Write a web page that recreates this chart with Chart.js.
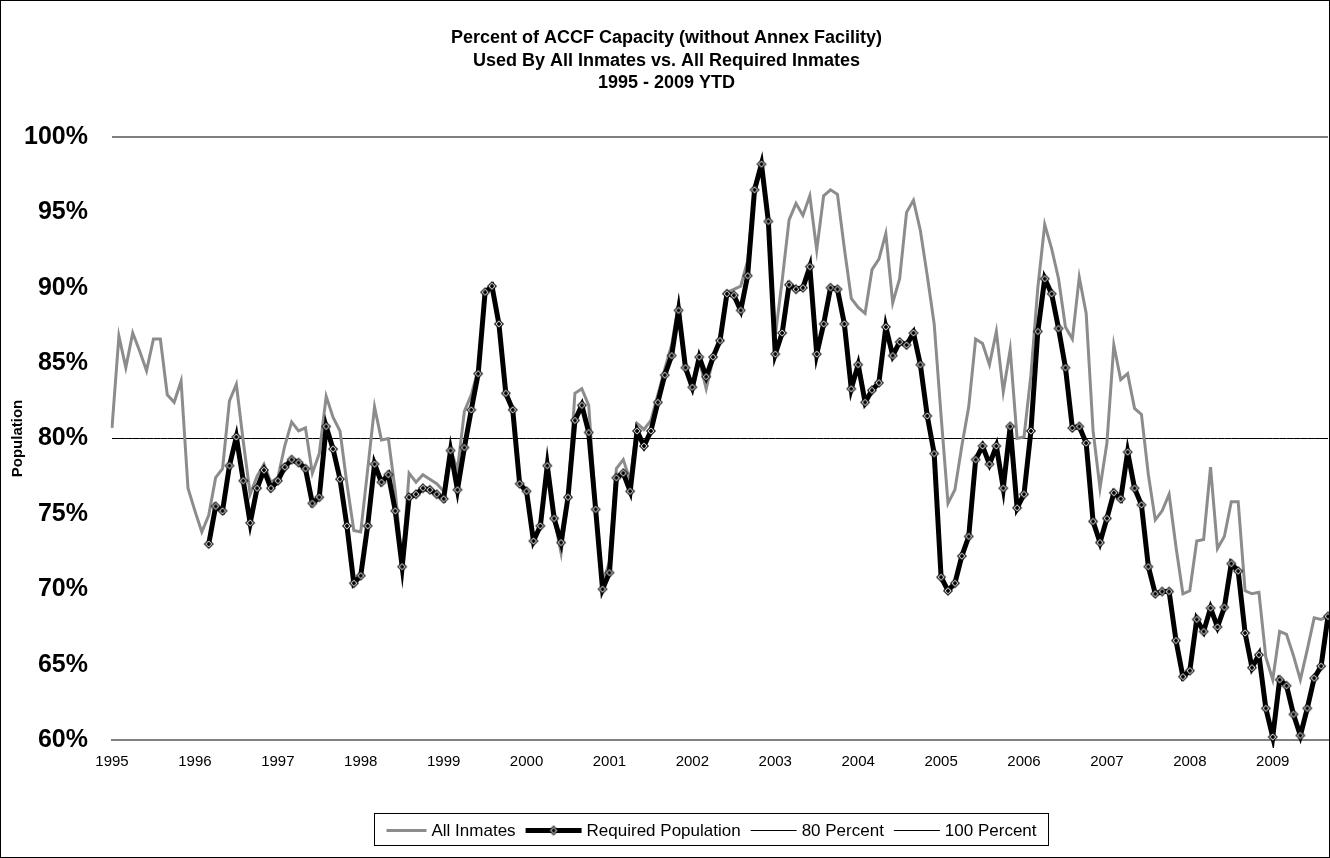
<!DOCTYPE html>
<html>
<head>
<meta charset="utf-8">
<title>Percent of ACCF Capacity</title>
<script src="https://cdn.jsdelivr.net/npm/chart.js@4.4.1/dist/chart.umd.min.js"></script>
<style>
  html, body { margin: 0; padding: 0; background: #fff; }
</style>
</head>
<body>
<canvas id="capacityChart" width="1330" height="858"></canvas>
<script>
// tick labels on the x axis (one per January)
const years = ['1995','1996','1997','1998','1999','2000','2001','2002',
               '2003','2004','2005','2006','2007','2008','2009'];

// percent of capacity, monthly Jan 1995 - Sep 2009
const allInmates = [
  80.7, 86.8, 84.7, 87.0, 85.8, 84.5, 86.6, 86.6, 82.9, 82.4, 83.8, 76.7,
  75.2, 73.8, 74.9, 77.4, 78.0, 82.5, 83.6, 79.8, 76.3, 77.5, 78.3, 77.1,
  77.4, 79.5, 81.1, 80.5, 80.7, 77.7, 79.0, 82.8, 81.4, 80.5, 77.0, 73.9,
  73.8, 77.9, 82.1, 79.9, 80.0, 76.5, 71.6, 77.7, 77.1, 77.6, 77.3, 77.0,
  76.5, 79.3, 77.9, 81.8, 82.9, 84.6, 89.8, 90.0, 87.6, 83.0, 81.9, 77.0,
  76.5, 73.2, 74.2, 78.3, 74.7, 72.4, 76.1, 83.0, 83.3, 82.2, 75.5, 70.4,
  71.8, 78.0, 78.6, 77.2, 81.0, 80.6, 81.2, 82.9, 84.6, 86.2, 88.9, 84.6,
  83.2, 85.2, 83.3, 85.3, 86.6, 89.7, 89.9, 90.1, 91.8, 96.5, 98.2, 94.4,
  86.8, 90.5, 94.5, 95.6, 94.8, 96.1, 92.5, 96.1, 96.5, 96.2, 92.6, 89.3,
  88.7, 88.3, 91.2, 91.9, 93.6, 89.0, 90.6, 95.0, 95.8, 93.8, 90.8, 87.6,
  81.5, 75.7, 76.6, 79.5, 82.1, 86.6, 86.3, 84.9, 87.1, 83.1, 85.9, 80.0,
  80.1, 84.2, 90.0, 94.2, 92.6, 90.6, 87.4, 86.6, 90.7, 88.3, 80.5, 76.7,
  79.7, 86.2, 83.9, 84.3, 82.0, 81.6, 77.6, 74.6, 75.2, 76.3, 72.8, 69.7,
  69.9, 73.2, 73.3, 78.1, 72.7, 73.5, 75.8, 75.8, 69.9, 69.7, 69.8, 65.5,
  64.0, 67.2, 67.0, 65.6, 64.0, 66.0, 68.1, 68.0, 68.2
];

const requiredPopulation = [
  null, null, null, null, null, null, null, null, null, null, null, null,
  null, null, 73.0, 75.5, 75.2, 78.2, 80.1, 77.2, 74.4, 76.7, 77.9, 76.7,
  77.2, 78.1, 78.6, 78.4, 78.0, 75.7, 76.1, 80.8, 79.3, 77.3, 74.2, 70.4,
  70.9, 74.2, 78.3, 77.1, 77.6, 75.2, 71.5, 76.1, 76.3, 76.7, 76.6, 76.3,
  76.0, 79.2, 76.6, 79.4, 81.9, 84.3, 89.7, 90.1, 87.6, 83.0, 81.9, 77.0,
  76.5, 73.2, 74.2, 78.2, 74.7, 73.1, 76.1, 81.2, 82.2, 80.4, 75.3, 70.0,
  71.1, 77.4, 77.7, 76.5, 80.5, 79.5, 80.5, 82.4, 84.2, 85.5, 88.5, 84.7,
  83.4, 85.4, 84.1, 85.4, 86.5, 89.6, 89.5, 88.5, 90.8, 96.5, 98.2, 94.4,
  85.6, 87.0, 90.2, 89.9, 90.0, 91.4, 85.6, 87.6, 90.0, 89.9, 87.6, 83.3,
  84.9, 82.4, 83.2, 83.7, 87.4, 85.5, 86.4, 86.2, 87.0, 84.9, 81.5, 79.0,
  70.8, 69.9, 70.4, 72.2, 73.5, 78.6, 79.5, 78.3, 79.5, 76.7, 80.8, 75.4,
  76.3, 80.5, 87.1, 90.6, 89.6, 87.3, 84.7, 80.7, 80.8, 79.7, 74.5, 73.1,
  74.7, 76.4, 76.0, 79.1, 76.7, 75.6, 71.5, 69.7, 69.85, 69.85, 66.6, 64.2,
  64.6, 68.0, 67.2, 68.75, 67.5, 68.8, 71.7, 71.2, 67.1, 64.8, 65.65, 62.1,
  60.2, 64.0, 63.6, 61.7, 60.3, 62.1, 64.1, 64.9, 68.2
];

// reference lines
const eightyPercent = 80;
const hundredPercent = 100;

// one category per month
const months = [];
years.forEach(y => {
  for (let m = 1; m <= 12; m++) months.push(y + '-' + String(m).padStart(2, '0'));
});
months.length = allInmates.length;

const FONT = '"Liberation Sans", Arial, sans-serif';

// diamond marker like the excel one: black edge, white ring, black centre
function diamondMarker(r) {
  const c = document.createElement('canvas');
  const s = r * 2 + 2;
  c.width = c.height = s;
  const g = c.getContext('2d');
  const m = s / 2;
  const rhombus = (rad, color) => {
    g.beginPath();
    g.moveTo(m, m - rad);
    g.lineTo(m + rad, m);
    g.lineTo(m, m + rad);
    g.lineTo(m - rad, m);
    g.closePath();
    g.fillStyle = color;
    g.fill();
  };
  rhombus(r, '#000');
  rhombus(r - 1.4, '#fff');
  rhombus(r - 2.6, '#000');
  return c;
}
const marker = diamondMarker(5);

// legend in a box + outer frame
const boxLegend = {
  id: 'boxLegend',
  afterDraw(chart) {
    const ctx = chart.ctx;
    ctx.save();
    ctx.strokeStyle = '#000';
    ctx.lineWidth = 1;
    ctx.strokeRect(0.5, 0.5, chart.width - 1, chart.height - 1);

    ctx.font = '17px ' + FONT;
    const samples = [40, 56, 46, 46];
    const items = chart.data.datasets.map((ds, i) => ({
      ds: ds,
      sample: samples[i],
      text: ctx.measureText(ds.label).width
    }));
    const gapText = 5, gapItem = 10, pad = 12;
    let total = 0;
    items.forEach((it, i) => { total += it.sample + gapText + it.text + (i ? gapItem : 0); });
    const boxW = Math.round(total + pad * 2);
    const cx = 711;
    const boxX = Math.round(cx - boxW / 2) + 0.5;
    const boxY = chart.height - 44.5;
    const boxH = 32;
    ctx.strokeRect(boxX, boxY, boxW, boxH);

    const y = Math.round(boxY + boxH / 2) + 0.5;
    let x = boxX + pad;
    ctx.textBaseline = 'middle';
    ctx.fillStyle = '#000';
    items.forEach(it => {
      ctx.beginPath();
      ctx.strokeStyle = it.ds.borderColor;
      ctx.lineWidth = it.ds.borderWidth;
      ctx.moveTo(x, y);
      ctx.lineTo(x + it.sample, y);
      ctx.stroke();
      if (it.ds.pointStyle) {
        ctx.drawImage(it.ds.pointStyle, x + it.sample / 2 - marker.width / 2, y - marker.height / 2);
      }
      x += it.sample + gapText;
      ctx.fillText(it.ds.label, x, y + 1);
      x += it.text + gapItem;
    });
    ctx.restore();
  }
};

new Chart(document.getElementById('capacityChart'), {
  type: 'line',
  data: {
    labels: months,
    datasets: [
      {
        label: 'All Inmates',
        data: allInmates,
        borderColor: '#8c8c8c',
        borderWidth: 3,
        pointRadius: 0,
        order: 1
      },
      {
        label: 'Required Population',
        data: requiredPopulation,
        borderColor: '#000',
        borderWidth: 5,
        pointStyle: marker,
        pointRadius: 5,
        clip: 8,
        order: 0
      },
      {
        label: '80 Percent',
        data: months.map(() => eightyPercent),
        borderColor: '#000',
        borderWidth: 1,
        pointRadius: 0,
        order: 2
      },
      {
        label: '100 Percent',
        data: months.map(() => hundredPercent),
        borderColor: '#000',
        borderWidth: 1.2,
        pointRadius: 0,
        clip: 3,
        order: 2
      }
    ]
  },
  options: {
    responsive: false,
    animation: false,
    events: [],
    // markers at the right edge would otherwise push the plot in
    layout: { autoPadding: false, padding: { top: 27, left: 5, right: 2, bottom: 0 } },
    plugins: {
      legend: { display: false },
      tooltip: { enabled: false },
      title: {
        display: true,
        text: ['Percent of ACCF Capacity (without Annex Facility)',
               'Used By All Inmates vs. All Required Inmates',
               '1995 - 2009 YTD'],
        color: '#000',
        font: { family: FONT, size: 18, weight: 'bold', lineHeight: 1.25 },
        padding: { top: 0, bottom: 42.5 }
      }
    },
    scales: {
      x: {
        // invisible tick marks keep the labels off the axis without side padding
        grid: { display: true, drawOnChartArea: false, drawTicks: true, tickLength: 13, tickColor: 'rgba(0,0,0,0)' },
        border: { color: '#808080', width: 2 },
        ticks: {
          autoSkip: false,
          maxRotation: 0,
          padding: 0,
          color: '#000',
          font: { family: FONT, size: 15 },
          callback: (v, i) => i % 12 === 0 ? years[i / 12] : null
        },
        afterFit: s => { s.height = 118; }
      },
      y: {
        min: 60,
        max: 100,
        grid: { display: false, drawTicks: false },
        border: { display: false },
        ticks: {
          stepSize: 5,
          padding: 24,
          color: '#000',
          font: { family: FONT, size: 25, weight: 'bold' },
          callback: v => v + '%'
        },
        title: {
          display: true,
          text: 'Population',
          color: '#000',
          font: { family: FONT, size: 15, weight: 'bold' },
          padding: { top: 4, bottom: 0 }
        },
        afterFit: s => { s.width = 107; }
      }
    }
  },
  plugins: [boxLegend]
});
</script>
</body>
</html>
